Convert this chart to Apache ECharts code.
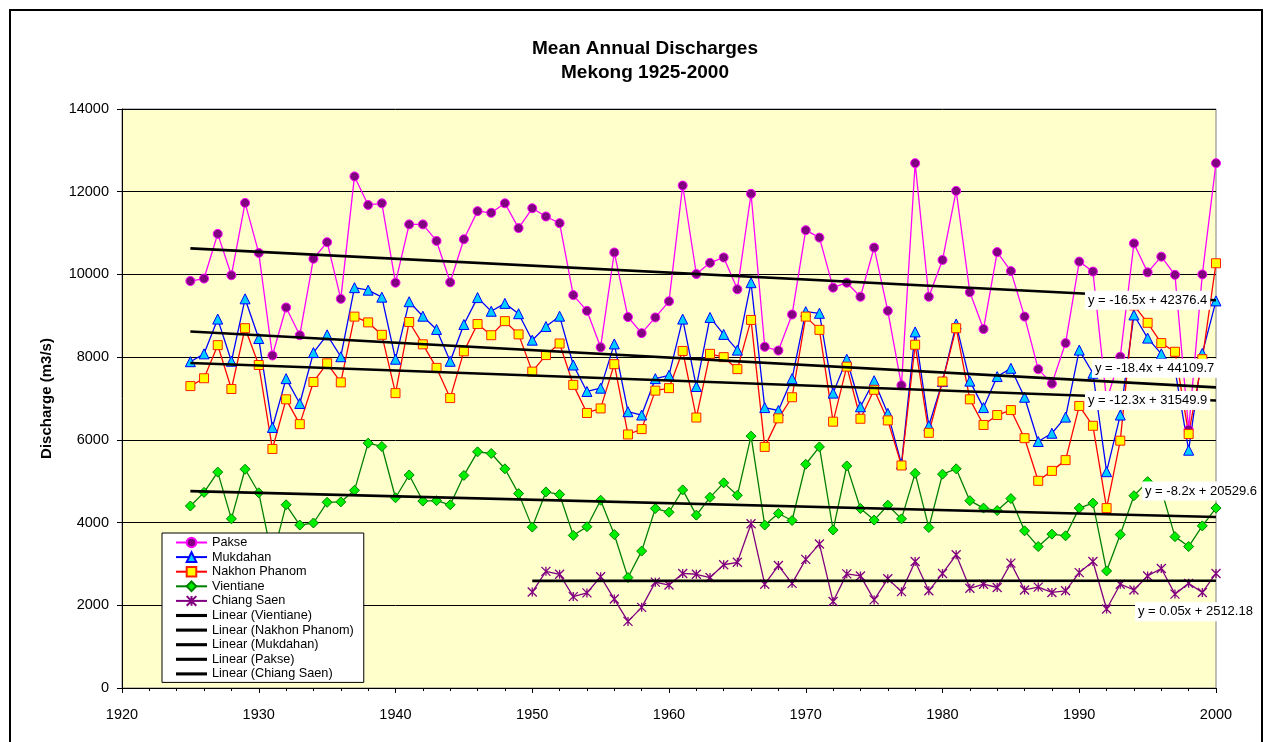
<!DOCTYPE html>
<html><head><meta charset="utf-8">
<script src="https://cdn.jsdelivr.net/npm/echarts@6/dist/echarts.min.js"></script>
<style>html,body{margin:0;padding:0;background:#fff}#c{width:1266px;height:742px}</style>
</head><body><div id="c"></div>
<script>
// ---- data ----
const firstYear = 1925;
const chiangFirstYear = 1950;
const pakse = [9840,9900,10980,9980,11730,10520,8040,9200,8530,10380,
  10780,9410,12370,11680,11720,9800,11210,11210,10810,9810,
  10850,11530,11490,11720,11120,11600,11400,11240,9500,9120,
  8240,10530,8970,8580,8960,9350,12150,10010,10280,10410,
  9640,11950,8250,8160,9030,11070,10890,9680,9800,9460,
  10650,9120,7320,12690,9460,10350,12020,9570,8680,10540,
  10080,8980,7710,7360,8340,10310,10070,6950,8010,10750,
  10050,10430,9990,6250,10000,12690];
const mukdahan = [7890,8080,8920,7900,9410,8450,6300,7480,6880,8110,
  8540,8010,9680,9620,9450,7950,9340,8990,8670,7900,
  8790,9440,9110,9300,9050,8410,8740,8990,7810,7170,
  7250,8320,6680,6600,7480,7560,8920,7290,8960,8550,
  8170,9800,6780,6710,7480,9100,9060,7130,7950,6800,
  7430,6640,5420,8610,6340,7410,8800,7420,6780,7530,
  7730,7030,5960,6160,6550,8170,7610,5230,6600,9020,
  8460,8080,7700,5750,8090,9360];
const nakhon = [7300,7490,8290,7230,8700,7810,5780,6980,6380,7400,
  7850,7390,8980,8840,8540,7130,8850,8310,7740,7010,
  8140,8800,8530,8870,8550,7650,8050,8330,7330,6650,
  6760,7830,6130,6260,7190,7250,8150,6540,8080,8000,
  7710,8900,5830,6520,7030,8980,8660,6440,7770,6510,
  7210,6470,5380,8300,6170,7410,8700,6980,6360,6600,
  6720,6040,5010,5250,5510,6820,6340,4350,5980,9250,
  8830,8340,8130,6140,7950,10270];
const vientiane = [4400,4730,5220,4090,5290,4720,3140,4430,3940,3990,
  4490,4500,4780,5920,5840,4600,5150,4520,4530,4430,
  5140,5710,5670,5300,4700,3890,4740,4680,3690,3900,
  4540,3710,2670,3310,4340,4250,4790,4180,4610,4960,
  4660,6090,3940,4220,4050,5410,5830,3820,5370,4340,
  4060,4420,4090,5190,3880,5170,5300,4530,4350,4290,
  4580,3800,3420,3720,3680,4350,4470,2830,3710,4650,
  4990,4800,3660,3420,3920,4350];
const chiangSaen = [2320,2820,2750,2210,2300,2690,2150,1610,1950,2560,
  2490,2770,2750,2670,2980,3040,3970,2510,2960,2530,
  3110,3480,2090,2760,2710,2130,2640,2330,3060,2350,
  2770,3220,2410,2510,2430,3020,2370,2440,2310,2350,
  2790,3060,1910,2510,2370,2710,2890,2270,2530,2310,2770];
// trend line endpoints [startYear, startValue, endYear, endValue]
const trendVientiane = [1925, 4760, 2000, 4135];
const trendNakhon    = [1925, 7860, 2000, 6950];
const trendMukdahan  = [1925, 8620, 2000, 7270];
const trendPakse     = [1925, 10630, 2000, 9376];
const trendChiang    = [1950, 2590, 2000, 2595];
const eqVientiane = 'y = -8.2x + 20529.6';
const eqNakhon    = 'y = -12.3x + 31549.9';
const eqMukdahan  = 'y = -18.4x + 44109.7';
const eqPakse     = 'y = -16.5x + 42376.4';
const eqChiang    = 'y = 0.05x + 2512.18';
const xTicks = [1920, 2000, 10];
const yTicks = [0, 14000, 2000];

// ---- chart ----
const FONT = '"Liberation Sans", Arial, sans-serif';
function pairs(start, vals){ return vals.map((v,i)=>[start+i, v]); }
function trendData(t){ return [[t[0],t[1]],[t[2],t[3]]]; }

function dataSeries(name, vals, start, line, sym, size, fill, border, bw){
  return {
    name, type:'line', data: pairs(start, vals), z: 2,
    color: line,
    symbol: sym, symbolSize: size, showSymbol: true,
    lineStyle: {color: line, width: 1.3},
    itemStyle: {color: fill, borderColor: border, borderWidth: bw},
    emphasis: {disabled: true}
  };
}
function trendSeries(name, t, eq, off){
  return {
    name, type:'line', data: trendData(t), z: 4,
    color:'#000', symbol:'none', showSymbol:false,
    lineStyle:{color:'#000', width:2.6},
    emphasis:{disabled:true},
    endLabel:{show:true, formatter: eq, distance:0, align:'left', offset: off,
      backgroundColor:'#fff', padding:[3,3,3,3], color:'#000',
      fontSize:13, fontFamily: FONT}
  };
}

const asterisk = 'path://M0,0L10,10M10,0L0,10M5,0L5,10';
const lineIcon = 'path://M0,0L30,0L30,3L0,3Z';

const chart = echarts.init(document.getElementById('c'), null, {renderer:'canvas'});
chart.setOption({
  animation:false,
  backgroundColor:'#fff',
  title:{
    text:'Mean Annual Discharges\nMekong 1925-2000',
    left: 640, top: 32, textAlign:'center',
    textStyle:{fontFamily: FONT, fontSize:19, fontWeight:'bold', color:'#000', lineHeight:24}
  },
  graphic:[{type:'rect', shape:{x:10,y:10,width:1252,height:745}, style:{fill:'none', stroke:'#000', lineWidth:2}, silent:true}],
  grid:{left:122, right:50, top:109, bottom:54, show:true, backgroundColor:'#FFFFCC', borderColor:'#808080', borderWidth:1},
  legend:{
    orient:'vertical', left:162, top:533,
    padding:[3,10,2,13], itemWidth:31, itemHeight:12, itemGap:1.6,
    backgroundColor:'#fff', borderColor:'#000', borderWidth:1,
    textStyle:{fontFamily: FONT, fontSize:12.7, lineHeight:12, color:'#000'},
    selectedMode:false,
    data:['Pakse','Mukdahan','Nakhon Phanom','Vientiane','Chiang Saen',
      {name:'Linear (Vientiane)', icon: lineIcon},
      {name:'Linear (Nakhon Phanom)', icon: lineIcon},
      {name:'Linear (Mukdahan)', icon: lineIcon},
      {name:'Linear (Pakse)', icon: lineIcon},
      {name:'Linear (Chiang Saen)', icon: lineIcon}]
  },
  xAxis:{
    type:'value', min:xTicks[0], max:xTicks[1], interval:xTicks[2],
    axisLine:{show:true, lineStyle:{color:'#000', width:1}},
    axisTick:{show:true, length:5, lineStyle:{color:'#000'}},
    minorTick:{show:true, splitNumber:5, length:3, lineStyle:{color:'#000'}},
    splitLine:{show:false},
    axisLabel:{fontFamily: FONT, fontSize:14.5, color:'#000', margin:19, formatter: v => String(v)}
  },
  yAxis:{
    type:'value', min:yTicks[0], max:yTicks[1], interval:yTicks[2],
    name:'Discharge (m3/s)', nameLocation:'middle', nameGap:68,
    nameTextStyle:{fontFamily: FONT, fontSize:15, fontWeight:'bold', color:'#000'},
    axisLine:{show:true, lineStyle:{color:'#000', width:1}},
    axisTick:{show:true, length:5, lineStyle:{color:'#000'}},
    splitLine:{show:true, lineStyle:{color:'#000', width:1}},
    axisLabel:{fontFamily: FONT, fontSize:14.5, color:'#000', margin:13, formatter: v => String(v)}
  },
  series:[
    dataSeries('Pakse', pakse, firstYear, '#FF00FF', 'circle', 9, '#800080', '#FF00FF', 1),
    dataSeries('Mukdahan', mukdahan, firstYear, '#0000FF', 'triangle', 10, '#00CCFF', '#0000FF', 1),
    dataSeries('Nakhon Phanom', nakhon, firstYear, '#FF0000', 'rect', 9, '#FFFF00', '#FF2000', 1),
    dataSeries('Vientiane', vientiane, firstYear, '#008000', 'diamond', 10, '#00EE00', '#008000', 1),
    dataSeries('Chiang Saen', chiangSaen, chiangFirstYear, '#800080', asterisk, 9, 'rgba(0,0,0,0)', '#800080', 1.3),
    trendSeries('Linear (Vientiane)', trendVientiane, eqVientiane, [-74,-26]),
    trendSeries('Linear (Nakhon Phanom)', trendNakhon, eqNakhon, [-131,0]),
    trendSeries('Linear (Mukdahan)', trendMukdahan, eqMukdahan, [-124,-19]),
    trendSeries('Linear (Pakse)', trendPakse, eqPakse, [-131,0]),
    trendSeries('Linear (Chiang Saen)', trendChiang, eqChiang, [-81,31])
  ]
});
</script></body></html>
